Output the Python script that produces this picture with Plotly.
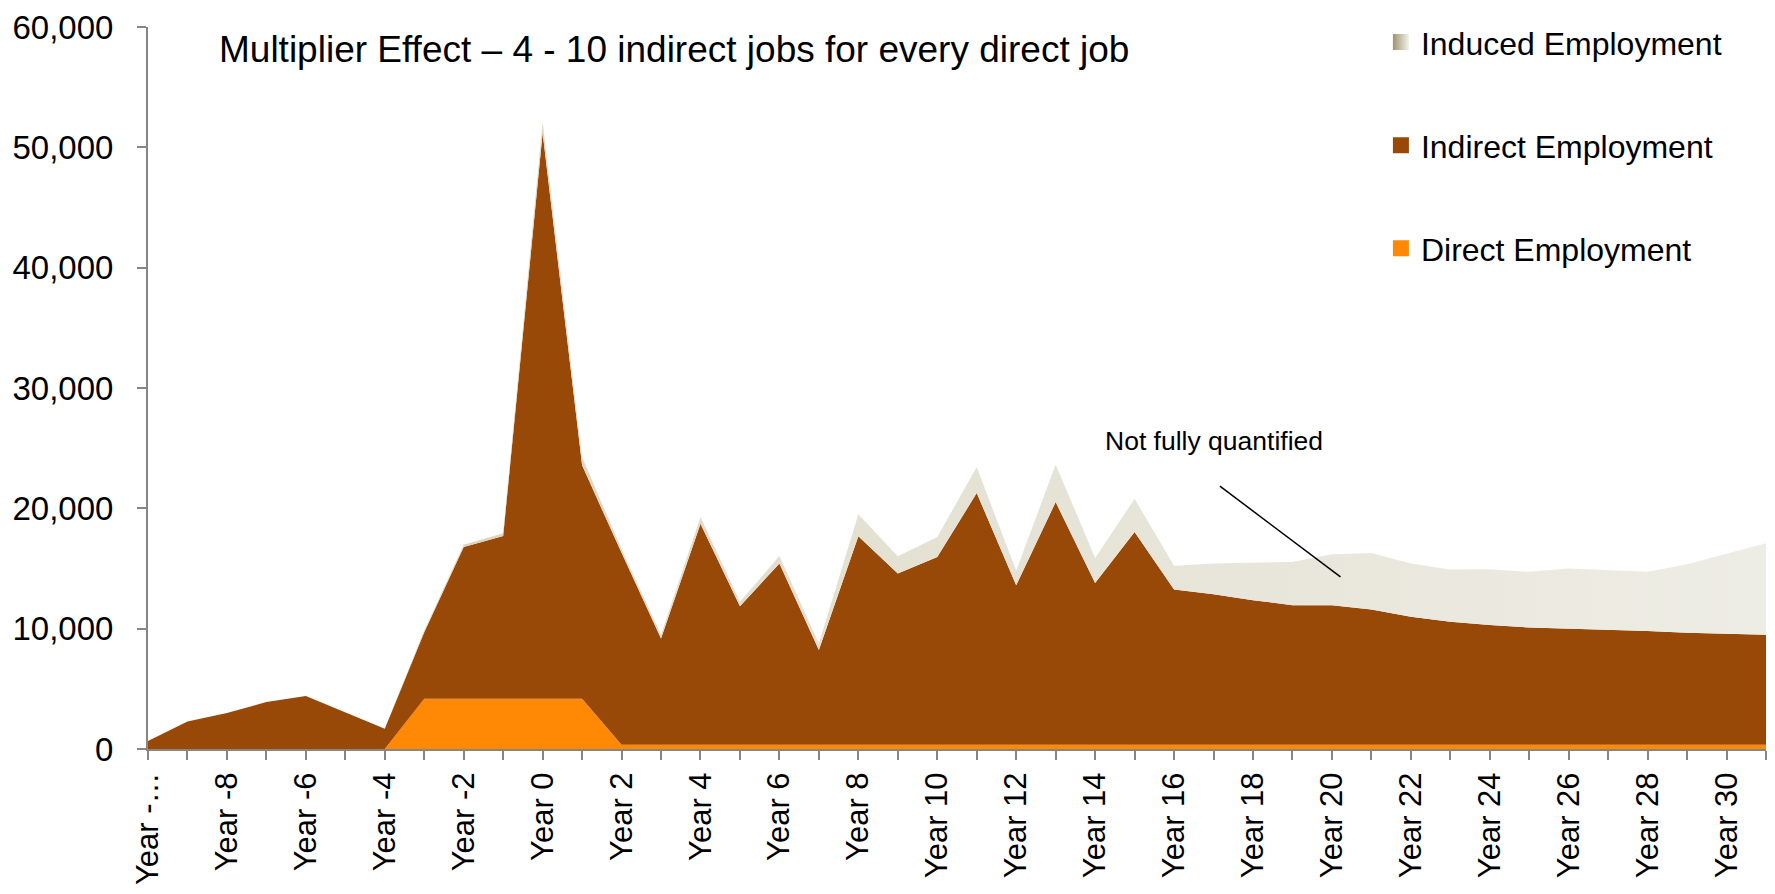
import plotly.graph_objects as go

categories = [f"Year {y}" for y in range(-10, 32)]
tick_labels = ["Year -…"] + [f"Year {y}" for y in range(-8, 32, 2)]

direct = [0, 0, 0, 0, 0, 0, 0,
          4170, 4170, 4170, 4170, 4170,
          350, 350, 350, 350, 350, 350, 350, 350, 350, 350,
          350, 350, 350, 350, 350, 350, 350, 350, 350, 350,
          350, 350, 350, 350, 350, 350, 350, 350, 350, 350]

indirect = [660, 2290, 3000, 3900, 4400, 3070, 1690,
            5530, 12610, 13530, 47030, 19400,
            15950, 8840, 18370, 11520, 15060, 7880, 17330, 14230, 15610, 20920,
            13260, 20170, 13450, 17690, 12900, 12520, 12020, 11600, 11600, 11250,
            10640, 10220, 9950, 9750, 9670, 9530, 9450, 9320, 9230, 9150]

induced = [0, 0, 0, 0, 0, 0, 0,
           150, 190, 230, 900, 680,
           300, 300, 560, 360, 630, 540, 1820, 1440, 1660, 2160,
           1200, 3130, 2080, 2760, 1970, 2540, 3090, 3600, 4230, 4690,
           4420, 4340, 4640, 4620, 4970, 4980, 4920, 5680, 6620, 7600]

y_ticks = [0, 10000, 20000, 30000, 40000, 50000, 60000]

FONT = "Liberation Sans, Arial, sans-serif"
C_DIRECT = "#FF8805"
C_INDIRECT = "#984807"

x_idx = list(range(len(categories)))
ticktext = []
j = 0
for i in x_idx:
    if i % 2 == 0:
        ticktext.append(tick_labels[j])
        j += 1
    else:
        ticktext.append("")

fig = go.Figure()
# stacked areas
fig.add_trace(go.Scatter(
    x=x_idx, y=direct, name="Direct Employment", stackgroup="one",
    mode="lines", line=dict(width=0), fillcolor=C_DIRECT,
    showlegend=False, customdata=categories,
))
fig.add_trace(go.Scatter(
    x=x_idx, y=indirect, name="Indirect Employment", stackgroup="one",
    mode="lines", line=dict(width=0), fillcolor=C_INDIRECT,
    showlegend=False, customdata=categories,
))
fig.add_trace(go.Scatter(
    x=x_idx, y=induced, name="Induced Employment", stackgroup="one",
    mode="lines", line=dict(width=0), fillcolor="#E4E1D2",
    fillgradient=dict(type="horizontal",
                      colorscale=[[0, "#CFC9AE"], [0.4, "#E3E0D1"], [1, "#EEEDE5"]]),
    showlegend=False, customdata=categories,
))

# legend entries (square swatches)
fig.add_trace(go.Scatter(
    x=[None], y=[None], mode="markers", name="Induced Employment",
    marker=dict(symbol="square", size=16, color="#9E9472",
                gradient=dict(type="horizontal", color="#F4F2EA"), line=dict(width=0)),
    legendgroup="a",
))
fig.add_trace(go.Scatter(
    x=[None], y=[None], mode="markers", name="Indirect Employment",
    marker=dict(symbol="square", size=16, color=C_INDIRECT, line=dict(width=0)),
    legendgroup="b",
))
fig.add_trace(go.Scatter(
    x=[None], y=[None], mode="markers", name="Direct Employment",
    marker=dict(symbol="square", size=16, color=C_DIRECT, line=dict(width=0)),
    legendgroup="c",
))

fig.update_layout(
    width=1759, height=878,
    margin=dict(l=140, r=1, t=15, b=127),
    paper_bgcolor="white", plot_bgcolor="white",
    font=dict(family=FONT, color="black", size=30),
    showlegend=True,
    legend=dict(
        x=0.762, y=1.017, xanchor="left", yanchor="top",
        traceorder="grouped", tracegroupgap=58.5,
        font=dict(size=32, family=FONT), bgcolor="rgba(0,0,0,0)",
        itemwidth=30,
    ),
    xaxis=dict(
        range=[0, len(categories) - 1],
        tickmode="array", tickvals=x_idx, ticktext=ticktext,
        tickangle=-90, ticks="outside", ticklen=9, tickwidth=2, tickcolor="#868686",
        showline=True, linecolor="#868686", linewidth=2,
        showgrid=False, zeroline=False,
        tickfont=dict(size=31, family=FONT),
        ticklabeloverflow="allow",
    ),
    yaxis=dict(
        range=[0, 60000], tickmode="array", tickvals=y_ticks, tickformat=",",
        ticks="outside", ticklen=9, tickwidth=2, tickcolor="#868686",
        showline=True, linecolor="#868686", linewidth=2,
        showgrid=False, zeroline=False,
        tickfont=dict(size=33, family=FONT), ticklabelstandoff=17,
        ticklabeloverflow="allow",
    ),
    annotations=[
        dict(text="Multiplier Effect – 4 - 10 indirect jobs for every direct job",
             xref="paper", yref="paper", x=0.0425, y=0.969,
             xanchor="left", yanchor="middle", showarrow=False,
             font=dict(size=37, family=FONT)),
        dict(text="Not fully quantified",
             xref="paper", yref="paper", x=0.590, y=0.426,
             xanchor="left", yanchor="middle", showarrow=False,
             font=dict(size=26.5, family=FONT)),
    ],
    shapes=[
        dict(type="line", xref="paper", yref="paper",
             x0=0.6625, y0=0.364, x1=0.737, y1=0.2385,
             line=dict(color="black", width=1.5)),
    ],
)

fig.write_html("out.html")
